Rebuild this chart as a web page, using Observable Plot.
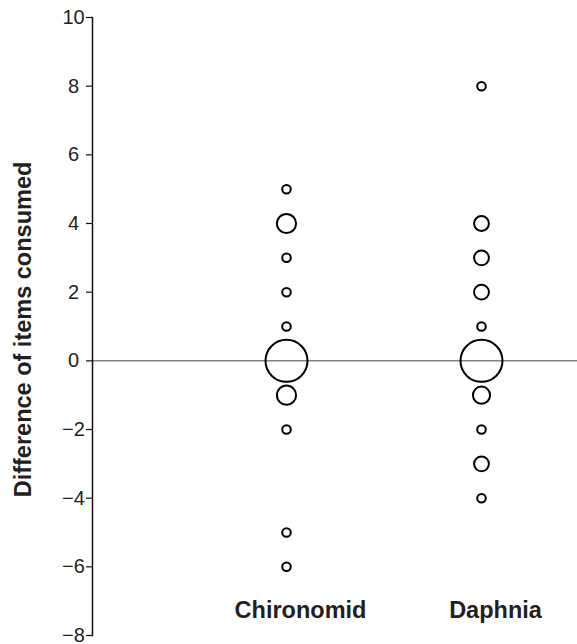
<!DOCTYPE html>
<html>
<head>
<meta charset="utf-8">
<script src="https://cdn.jsdelivr.net/npm/d3@7"></script>
<script src="https://cdn.jsdelivr.net/npm/@observablehq/plot@0.6"></script>
<style>
  html, body { margin: 0; padding: 0; background: #fff; }
  g[aria-label="y-axis tick label"] { font-size: 20px; }
</style>
</head>
<body>
<div id="chart"></div>
<script>
const categories = ["Chironomid", "Daphnia"];
const chironomidDiff = [5, 4, 3, 2, 1, 0, -1, -2, -5, -6];
const chironomidCount = [1, 5, 1, 1, 1, 24, 5, 1, 1, 1];
const daphniaDiff = [8, 4, 3, 2, 1, 0, -1, -2, -3, -4];
const daphniaCount = [1, 3, 3, 3, 1, 24, 4, 1, 3, 1];
const yTicks = [-8, -6, -4, -2, 0, 2, 4, 6, 8, 10];
const yLabel = "Difference of items consumed";

const data = [
  ...chironomidDiff.map((d, i) => ({category: categories[0], diff: d, count: chironomidCount[i]})),
  ...daphniaDiff.map((d, i) => ({category: categories[1], diff: d, count: daphniaCount[i]}))
];

const font = "'Liberation Sans', Arial, Helvetica, sans-serif";

const chart = Plot.plot({
  width: 577,
  height: 644,
  marginLeft: 92,
  marginRight: 0,
  marginTop: 17,
  marginBottom: 9,
  style: {fontFamily: font, background: "#fff", color: "#231f20", overflow: "visible"},
  x: {type: "point", domain: categories, range: [286, 481], padding: 0},
  y: {domain: [-8, 10]},
  r: {type: "sqrt", domain: [0, 24], range: [0, 21]},
  marks: [
    Plot.ruleY([0], {stroke: "#444", strokeWidth: 1}),
    Plot.frame({anchor: "left", stroke: "#111", strokeWidth: 1.5}),
    Plot.axisY(yTicks, {
      tickSize: 6, tickPadding: 13, textAnchor: "middle",
      fontSize: 20, label: null, stroke: "#111", strokeWidth: 1.2, fill: "#231f20"
    }),
    Plot.axisX({
      anchor: "bottom", tickSize: 0, tickPadding: 0, dy: -34, dx: 14,
      fontSize: 23.5, fontWeight: "bold", label: null, fill: "#231f20"
    }),
    Plot.dot(data, {x: "category", y: "diff", r: "count", stroke: "#000", strokeWidth: 2, fill: "none"}),
    Plot.text([yLabel], {
      frameAnchor: "left", rotate: -90, textAnchor: "middle", dx: -69, dy: 3,
      fontSize: 23.5, fontWeight: "bold", fill: "#231f20"
    })
  ]
});

document.getElementById("chart").appendChild(chart);
</script>
</body>
</html>
